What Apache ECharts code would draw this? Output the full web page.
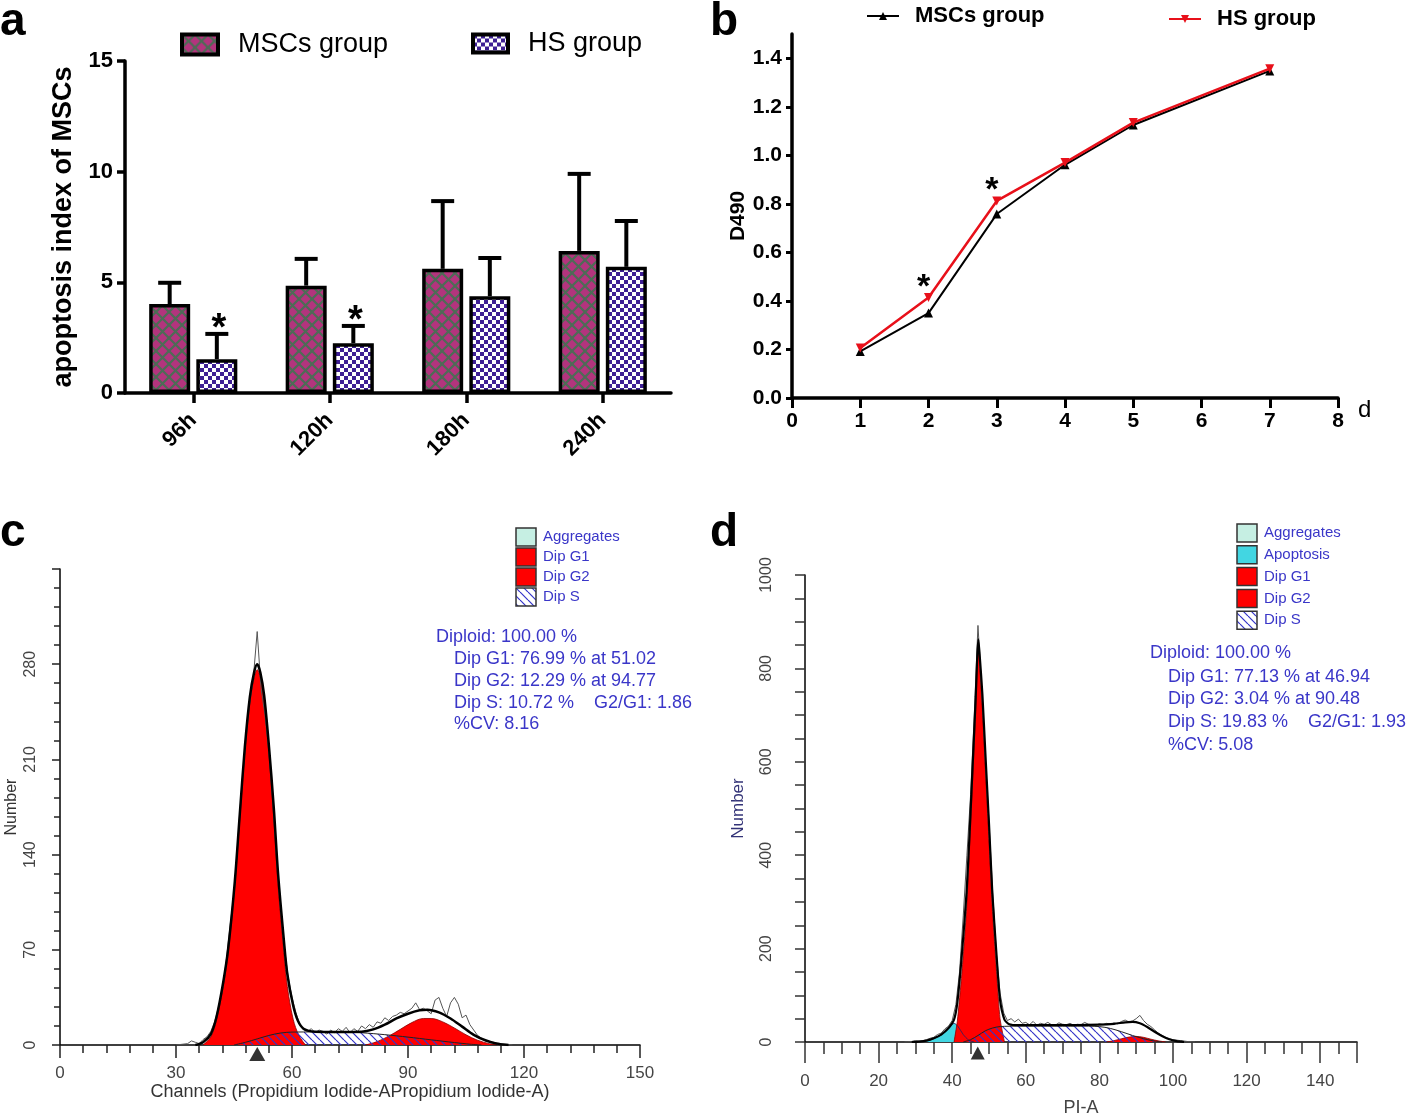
<!DOCTYPE html>
<html><head><meta charset="utf-8">
<script src="https://cdn.jsdelivr.net/npm/echarts@6/dist/echarts.min.js"></script>
<style>html,body{margin:0;padding:0;background:#fff}#main{width:1418px;height:1118px}</style>
</head><body><div id="main"></div>
<script>
// ---------- Panel a data ----------
const aCategories = ['96h', '120h', '180h', '240h'];
const aMSCs = [4.02, 4.85, 5.61, 6.42];
const aMSCsUpper = [4.98, 6.06, 8.67, 9.90];
const aHS = [1.53, 2.25, 4.37, 5.70];
const aHSUpper = [2.67, 3.03, 6.10, 7.77];
const aHSSignificant = [1, 1, 0, 0];
const aYTicks = [0, 5, 10, 15];

// ---------- Panel b data ----------
const bDays = [1, 2, 3, 4, 5, 7];
const bMSCs = [0.192, 0.350, 0.758, 0.961, 1.125, 1.348];
const bHS = [0.206, 0.414, 0.812, 0.970, 1.135, 1.357];
const bSignificantDays = [2, 3];
const bYTicks = [0, 0.2, 0.4, 0.6, 0.8, 1.0, 1.2, 1.4];

// ---------- Panel c data (channel, count) ----------
const cG1 = [[37,0],[39,6],[40.5,19],[42.2,43],[43.5,68],[45.2,117],[46.5,166],[47.8,215],[49.1,252],[50.2,270],[51,276],[51.8,270],[52.8,252],[54,215],[55.3,166],[56.4,117],[57.9,68],[58.8,43],[60.3,19],[61.8,7],[63.5,0]];
const cG2 = [[79,0],[82,2.5],[85,6.5],[88,11.5],[91,16.5],[94,19.5],[96,19.5],[99,17],[102,12.5],[105,7.5],[108,3.5],[111,1],[113,0]];
const cS = [[45,0],[48,2],[51,4.5],[54,7],[57,8.8],[60,9.5],[66,9.6],[72,9.5],[78,9],[84,7.6],[90,5.8],[96,3.8],[102,1.8],[106,0.6],[109,0]];
const cFit = [[35,0],[37,2],[39,8],[40.5,21],[42.2,46],[43.5,71],[45.2,120],[46.5,170],[47.8,219],[49.1,256],[50.2,274],[51,280],[51.8,274],[52.8,257],[54,221],[55.3,174],[56.4,126],[57.9,77],[58.8,52],[60.3,29],[61.5,18],[63,12],[66,9.8],[72,9.6],[78,9.8],[81,11.5],[84,15],[87,19.5],[90,23],[93,25.5],[95,26],[98,24],[101,19.5],[104,13.5],[107,7.5],[110,3.5],[113,1],[116,0]];
const cRaw = [[30,0],[33,1],[34,3],[35,2],[36,1],[37,4],[38,6],[39,10],[40,17],[41,28],[42,40],[43,62],[44,88],[45,112],[46,150],[47,190],[48,222],[49,250],[50,270],[51,304],[52,262],[53,243],[54,216],[55,180],[56,138],[57,102],[58,72],[59,50],[60,35],[61,24],[62,15],[63,11],[64,10],[65,12],[66,9],[67,11],[68,10],[69,8],[70,11],[71,9],[72,12],[73,10],[74,13],[75,9],[76,12],[77,10],[78,14],[79,12],[80,15],[81,13],[82,17],[83,16],[84,20],[85,18],[86,21],[87,22],[88,24],[89,23],[90,25],[91,27],[92,31],[93,26],[94,27],[95,25],[96,23],[97,33],[98,35],[99,27],[100,21],[101,31],[102,35],[103,30],[104,20],[105,22],[106,15],[107,11],[108,7],[109,5],[110,3],[112,2],[114,1],[117,0]];
const cG1Peak = 51.02;
const cLegendItems = ['Aggregates', 'Dip G1', 'Dip G2', 'Dip S'];
const cStats = ['Diploid: 100.00 %', 'Dip G1: 76.99 % at 51.02', 'Dip G2: 12.29 % at 94.77', 'Dip S: 10.72 %    G2/G1: 1.86', '%CV: 8.16'];

// ---------- Panel d data (channel, count) ----------
const dApoptosis = [[31,0],[33,2],[35,7],[37,15],[39,28],[40.5,40],[41.5,34],[43,16],[44.5,4],[46,0]];
const dG1 = [[40.5,0],[41.4,45],[42.6,145],[43.9,285],[44.8,430],[45.6,570],[46.4,712],[46.8,800],[47.1,848],[47.5,800],[48.2,712],[49.1,570],[50,430],[50.9,285],[52.1,145],[53,50],[54.2,0]];
const dG2 = [[82,0],[84,3],[86,7],[88,10.5],[90,12],[92,10],[94,6],[96,2.5],[98,0]];
const dS = [[43,0],[45,5],[47,14],[49,24],[51,30],[53,33],[58,34],[66,34],[74,34],[80,33],[83,29],[86,22],[89,14],[92,7],[95,2],[97,0]];
const dFit = [[29,0],[31,1],[33,3],[35,8],[37,16],[39,30],[40.5,48],[41.4,85],[42.6,185],[43.9,320],[44.8,460],[45.6,600],[46.4,740],[46.8,825],[47.1,862],[47.5,825],[48.2,745],[49.1,605],[50,468],[50.9,320],[52.1,180],[53,90],[54.2,48],[55.5,38],[58,36],[66,36],[74,36],[80,37],[84,39],[87,42],[89,43],[91,40],[93,32],[95,22],[97,13],[99,6],[101,2],[103,0]];
const dRaw = [[27,0],[29,1],[30,3],[31,2],[32,3],[33,5],[34,8],[35,10],[36,16],[37,19],[38,28],[39,34],[40,46],[41,80],[42,150],[43,270],[44,400],[45,530],[46,700],[47,892],[48,760],[49,610],[50,470],[51,320],[52,190],[53,105],[54,62],[55,46],[56,50],[57,43],[58,49],[59,40],[60,42],[61,37],[62,44],[63,36],[64,40],[65,38],[66,42],[67,37],[68,36],[69,41],[70,38],[71,37],[72,40],[73,36],[74,38],[75,37],[76,42],[77,38],[78,37],[79,36],[80,39],[81,37],[82,40],[83,38],[84,41],[85,39],[86,44],[87,47],[88,43],[89,45],[90,50],[91,57],[92,46],[93,38],[94,33],[95,26],[96,19],[97,14],[98,10],[99,7],[100,5],[102,3],[104,1],[106,0]];
const dG1Peak = 46.94;
const dLegendItems = ['Aggregates', 'Apoptosis', 'Dip G1', 'Dip G2', 'Dip S'];
const dStats = ['Diploid: 100.00 %', 'Dip G1: 77.13 % at 46.94', 'Dip G2: 3.04 % at 90.48', 'Dip S: 19.83 %    G2/G1: 1.93', '%CV: 5.08'];

// ---------- styling helpers ----------
const FONT = '"Liberation Sans", Arial, Helvetica, sans-serif';
function tile(w, h, draw) { const c = document.createElement('canvas'); c.width = w; c.height = h; draw(c.getContext('2d'), w, h); return c; }
const mscTile = tile(13, 13, (g, w, h) => {
  g.fillStyle = '#b3347d'; g.fillRect(0, 0, w, h);
  g.strokeStyle = '#4d6c56'; g.lineWidth = 2.2;
  for (const dx of [-w, 0, w]) { g.beginPath(); g.moveTo(dx, 0); g.lineTo(dx + w, h); g.moveTo(dx + w, 0); g.lineTo(dx, h); g.stroke(); }
});
const hsTile = tile(8, 8, (g) => { g.fillStyle = '#fff'; g.fillRect(0, 0, 8, 8); g.fillStyle = '#3e1f94'; g.fillRect(0, 0, 4, 4); g.fillRect(4, 4, 4, 4); });
const hatchTile = tile(8, 8, (g) => { g.strokeStyle = '#3434c8'; g.lineWidth = 1.2; for (const dx of [-8, 0, 8]) { g.beginPath(); g.moveTo(dx, 0); g.lineTo(dx + 8, 8); g.stroke(); } });
const mscFill = { image: mscTile, repeat: 'repeat' };
const hsFill = { image: hsTile, repeat: 'repeat' };
const hatchFill = { image: hatchTile, repeat: 'repeat' };
const RED = '#ff0000';
const CYAN = '#42d6e2';
const BLUE_TEXT = '#3a36c8';

const BAR_W = 41, BAR_GAP = 0.15;
const barOffset = BAR_W * (1 + BAR_GAP) / 2;

function errorSeries(means, uppers, sig, side) {
  return {
    type: 'custom', xAxisIndex: 0, yAxisIndex: 0, z: 2,
    data: means.map((m, i) => [i, m, uppers[i], sig ? sig[i] : 0]),
    encode: { x: 0, y: 2 },
    renderItem: function (params, api) {
      const i = api.value(0);
      const b = api.coord([i, api.value(1)]);
      const t = api.coord([i, api.value(2)]);
      const x = b[0] + side * barOffset;
      const children = [
        { type: 'line', shape: { x1: x, y1: b[1], x2: x, y2: t[1] }, style: { stroke: '#000', lineWidth: 4 } },
        { type: 'line', shape: { x1: x - 11.5, y1: t[1], x2: x + 11.5, y2: t[1] }, style: { stroke: '#000', lineWidth: 4 } }
      ];
      if (api.value(3)) {
        children.push({ type: 'text', x: x + 2, y: t[1] - 4, style: { text: '*', fill: '#000', font: 'bold 38px ' + FONT, align: 'center', verticalAlign: 'middle' } });
      }
      return { type: 'group', children: children };
    }
  };
}

function area(name, xi, data, fill, z, lineColor, lineWidth, smooth) {
  return { type: 'line', name: name, xAxisIndex: xi, yAxisIndex: xi, data: data, symbol: 'none', smooth: smooth,
    lineStyle: { color: lineColor, width: lineWidth }, areaStyle: { color: fill, opacity: 1 }, z: z, silent: true };
}
function curve(name, xi, data, color, width, z, smooth) {
  return { type: 'line', name: name, xAxisIndex: xi, yAxisIndex: xi, data: data, symbol: 'none', smooth: smooth,
    lineStyle: { color: color, width: width }, z: z, silent: true };
}

function histLegend(x, yTop, step, items, fills) {
  const els = [];
  items.forEach((t, i) => {
    const cy = yTop + i * step;
    els.push({ type: 'rect', shape: { x: x, y: cy - 9, width: 20, height: 18 }, style: { fill: fills[i], stroke: '#333', lineWidth: 1.5 } });
    els.push({ type: 'text', x: x + 27, y: cy, style: { text: t, fill: BLUE_TEXT, font: '15px ' + FONT, verticalAlign: 'middle' } });
  });
  return els;
}
function statsText(x, y, lines, ys, indent) {
  return lines.map((t, i) => ({ type: 'text', x: x + (i === 0 ? 0 : indent), y: ys[i], style: { text: t, fill: BLUE_TEXT, font: '18px ' + FONT, verticalAlign: 'middle' } }));
}
function panelLetter(t, x, y) {
  return { type: 'text', x: x, y: y, style: { text: t, fill: '#000', font: 'bold 46px ' + FONT, verticalAlign: 'middle' } };
}

const legendText = { aMSC: 'MSCs group', aHS: 'HS group', bMSC: 'MSCs group', bHS: 'HS group' };

const blackAxis = (w) => ({ show: true, onZero: false, lineStyle: { color: '#000', width: w } });

const option = {
  animation: false,
  backgroundColor: '#fff',
  textStyle: { fontFamily: FONT },
  grid: [
    { left: 125, top: 61, width: 546, height: 332 },
    { left: 792, top: 34, width: 546, height: 364 },
    { left: 60, top: 569, width: 580, height: 476 },
    { left: 805, top: 575, width: 552, height: 470 }
  ],
  legend: [
    { data: ['aMSC'], left: 180, top: 31, padding: 0, icon: 'rect', itemWidth: 36, itemHeight: 20, formatter: n => legendText[n],
      itemStyle: { borderColor: '#000', borderWidth: 4 }, textStyle: { fontSize: 27, color: '#000', padding: [0, 0, 0, 15] } },
    { data: ['aHS'], left: 471, top: 30, padding: 0, icon: 'rect', itemWidth: 35, itemHeight: 18, formatter: n => legendText[n],
      itemStyle: { borderColor: '#000', borderWidth: 4 }, textStyle: { fontSize: 27, color: '#000', padding: [0, 0, 0, 15] } },
    { data: ['bMSC'], left: 866, top: 5, padding: 0, itemWidth: 32, itemHeight: 10, formatter: n => legendText[n],
      textStyle: { fontSize: 22, fontWeight: 'bold', color: '#000', padding: [0, 0, 0, 11] } },
    { data: ['bHS'], left: 1168, top: 8, padding: 0, itemWidth: 32, itemHeight: 10, formatter: n => legendText[n], symbolRotate: 'inherit',
      textStyle: { fontSize: 22, fontWeight: 'bold', color: '#000', padding: [0, 0, 0, 11] } }
  ],
  xAxis: [
    { type: 'category', gridIndex: 0, data: aCategories, boundaryGap: true,
      axisLine: blackAxis(3.5), axisTick: { show: true, alignWithLabel: true, length: 10, lineStyle: { color: '#000', width: 3.5 } },
      axisLabel: { rotate: 45, fontSize: 22, fontWeight: 'bold', color: '#000', margin: 24 }, splitLine: { show: false } },
    { type: 'value', gridIndex: 1, min: 0, max: 8, interval: 1, name: 'd', nameLocation: 'end', nameGap: 20,
      nameTextStyle: { fontSize: 24, color: '#000', verticalAlign: 'top', padding: [0, 0, 0, 0] },
      axisLine: blackAxis(3.5), axisTick: { show: true, length: 10, lineStyle: { color: '#000', width: 3 } },
      axisLabel: { fontSize: 21, fontWeight: 'bold', color: '#000', margin: 13 }, splitLine: { show: false } },
    { type: 'value', gridIndex: 2, min: 0, max: 150, interval: 30, name: 'Channels (Propidium Iodide-APropidium Iodide-A)',
      nameLocation: 'middle', nameGap: 38, nameTextStyle: { fontSize: 18, color: '#333' },
      axisLine: blackAxis(1.5), axisTick: { show: true, length: 13, lineStyle: { color: '#222', width: 1.5 } },
      minorTick: { show: true, splitNumber: 5, length: 8, lineStyle: { color: '#222', width: 1.5 } },
      axisLabel: { fontSize: 17, color: '#444', margin: 20 }, splitLine: { show: false }, minorSplitLine: { show: false } },
    { type: 'value', gridIndex: 3, min: 0, max: 150, interval: 20, name: 'PI-A',
      nameLocation: 'middle', nameGap: 57, nameTextStyle: { fontSize: 18, color: '#444' },
      axisLine: blackAxis(1.5), axisTick: { show: true, length: 21, lineStyle: { color: '#333', width: 1.5 } },
      minorTick: { show: true, splitNumber: 4, length: 12, lineStyle: { color: '#333', width: 1.5 } },
      axisLabel: { fontSize: 17, color: '#444', margin: 31, showMaxLabel: false }, splitLine: { show: false }, minorSplitLine: { show: false } }
  ],
  yAxis: [
    { type: 'value', gridIndex: 0, min: 0, max: 15, interval: 5, name: 'apoptosis index of MSCs', nameLocation: 'middle', nameGap: 48,
      nameTextStyle: { fontSize: 27, fontWeight: 'bold', color: '#000' },
      axisLine: blackAxis(3.5), axisTick: { show: true, length: 8, lineStyle: { color: '#000', width: 3.5 } },
      axisLabel: { fontSize: 22, fontWeight: 'bold', color: '#000', margin: 12 }, splitLine: { show: false } },
    { type: 'value', gridIndex: 1, min: 0, max: 1.5, name: 'D490', nameLocation: 'middle', nameGap: 42,
      nameTextStyle: { fontSize: 21, fontWeight: 'bold', color: '#000' },
      axisLine: blackAxis(3.5),
      axisTick: { show: true, length: 6, customValues: bYTicks, lineStyle: { color: '#000', width: 3 } },
      axisLabel: { fontSize: 21, fontWeight: 'bold', color: '#000', margin: 10, customValues: bYTicks, formatter: v => v.toFixed(1) },
      splitLine: { show: false } },
    { type: 'value', gridIndex: 2, min: 0, max: 350, interval: 70, name: 'Number', nameLocation: 'middle', nameGap: 40,
      nameTextStyle: { fontSize: 16, color: '#333' },
      axisLine: blackAxis(1.5), axisTick: { show: true, length: 8, lineStyle: { color: '#222', width: 1.5 } },
      minorTick: { show: true, splitNumber: 5, length: 6, lineStyle: { color: '#222', width: 1.5 } },
      axisLabel: { rotate: 90, fontSize: 16, color: '#444', margin: 21, showMaxLabel: false }, splitLine: { show: false }, minorSplitLine: { show: false } },
    { type: 'value', gridIndex: 3, min: 0, max: 1000, interval: 200, name: 'Number', nameLocation: 'middle', nameGap: 58,
      nameTextStyle: { fontSize: 17, color: '#333377' },
      axisLine: blackAxis(1.5), axisTick: { show: true, length: 10, lineStyle: { color: '#333', width: 1.5 } },
      minorTick: { show: true, splitNumber: 4, length: 10, lineStyle: { color: '#333', width: 1.5 } },
      axisLabel: { rotate: 90, fontSize: 16, color: '#444', margin: 30, formatter: v => String(v) }, splitLine: { show: false }, minorSplitLine: { show: false } }
  ],
  series: [
    // panel a
    { type: 'bar', name: 'aMSC', xAxisIndex: 0, yAxisIndex: 0, data: aMSCs, barWidth: BAR_W, barGap: (BAR_GAP * 100) + '%',
      itemStyle: { color: mscFill, borderColor: '#000', borderWidth: 3.5 }, z: 3 },
    { type: 'bar', name: 'aHS', xAxisIndex: 0, yAxisIndex: 0, data: aHS, barWidth: BAR_W, barGap: (BAR_GAP * 100) + '%',
      itemStyle: { color: hsFill, borderColor: '#000', borderWidth: 3.5 }, z: 3 },
    errorSeries(aMSCs, aMSCsUpper, null, -1),
    errorSeries(aHS, aHSUpper, aHSSignificant, 1),
    // panel b
    { type: 'line', name: 'bMSC', xAxisIndex: 1, yAxisIndex: 1, data: bDays.map((d, i) => [d, bMSCs[i]]),
      symbol: 'triangle', symbolSize: 9, lineStyle: { color: '#000', width: 2 }, itemStyle: { color: '#000' }, z: 3 },
    { type: 'line', name: 'bHS', xAxisIndex: 1, yAxisIndex: 1, data: bDays.map((d, i) => [d, bHS[i]]),
      symbol: 'triangle', symbolRotate: 180, symbolSize: 9, lineStyle: { color: '#e8101a', width: 2.5 }, itemStyle: { color: '#e8101a' }, z: 4 },
    { type: 'custom', xAxisIndex: 1, yAxisIndex: 1, z: 5,
      data: bSignificantDays.map(d => [d, bHS[bDays.indexOf(d)]]),
      renderItem: function (params, api) {
        const p = api.coord([api.value(0), api.value(1)]);
        return { type: 'text', x: p[0] - 5, y: p[1] - 10, style: { text: '*', fill: '#000', font: 'bold 34px ' + FONT, align: 'center', verticalAlign: 'middle' } };
      } },
    // panel c
    area('cG1', 2, cG1, RED, 2, '#8a0000', 0.8, 0.35),
    area('cG2', 2, cG2, RED, 2, '#8a0000', 0.8, 0.35),
    area('cS', 2, cS, hatchFill, 3, '#222', 1, 0.3),
    curve('cRaw', 2, cRaw, '#555', 1, 4, false),
    curve('cFit', 2, cFit, '#000', 2.5, 5, 0.3),
    { type: 'scatter', xAxisIndex: 2, yAxisIndex: 2, data: [[cG1Peak, 0]], symbol: 'triangle', symbolSize: [16, 14], symbolOffset: [0, 9],
      itemStyle: { color: '#000' }, clip: false, z: 6, silent: true },
    // panel d
    area('dApoptosis', 3, dApoptosis, CYAN, 2, '#226', 0.8, 0.3),
    area('dG1', 3, dG1, RED, 2, '#8a0000', 0.8, 0.2),
    area('dG2', 3, dG2, RED, 2, '#8a0000', 0.8, 0.3),
    area('dS', 3, dS, hatchFill, 3, '#222', 1, 0.3),
    curve('dRaw', 3, dRaw, '#555', 1, 4, false),
    curve('dFit', 3, dFit, '#000', 2.2, 5, 0.2),
    { type: 'scatter', xAxisIndex: 3, yAxisIndex: 3, data: [[dG1Peak, 0]], symbol: 'triangle', symbolSize: [14, 13], symbolOffset: [0, 11],
      itemStyle: { color: '#000' }, clip: false, z: 6, silent: true }
  ],
  graphic: [].concat(
    [panelLetter('a', 0, 22), panelLetter('b', 710, 22), panelLetter('c', 0, 533), panelLetter('d', 710, 533)],
    histLegend(516, 537, 20, cLegendItems, ['#c6efe3', RED, RED, hatchFill]),
    statsText(436, 0, cStats, [637, 659, 681, 703, 724], 18),
    histLegend(1237, 533, 21.8, dLegendItems, ['#c6efe3', CYAN, RED, RED, hatchFill]),
    statsText(1150, 0, dStats, [653, 677, 699, 722, 745], 18)
  )
};

const chart = echarts.init(document.getElementById('main'), null, { renderer: 'canvas' });
chart.setOption(option);
</script>
</body></html>
